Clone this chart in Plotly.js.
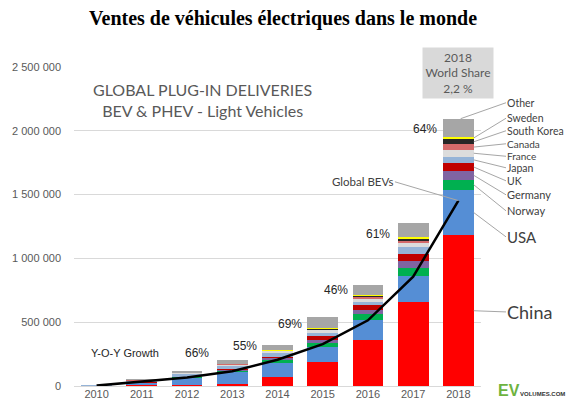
<!DOCTYPE html>
<html>
<head>
<meta charset="utf-8">
<script src="https://cdn.plot.ly/plotly-3.0.1.min.js"></script>
<style>
html,body{margin:0;padding:0;background:#fff;}
#chart{width:566px;height:407px;}
</style>
</head>
<body>
<div id="chart"></div>
<script>
var years = [2010, 2011, 2012, 2013, 2014, 2015, 2016, 2017, 2018];

var china      = [1000, 5000, 10000, 15000, 68000, 188000, 360000, 661000, 1180000];
var usa        = [500, 17700, 53000, 97000, 115000, 115000, 160000, 201000, 358000];
var norway     = [400, 2000, 4600, 8000, 20000, 34000, 45000, 63000, 78000];
var germany    = [500, 2000, 3000, 6000, 13000, 24000, 32000, 57000, 70000];
var uk         = [200, 1200, 2200, 3600, 15000, 28000, 37000, 52000, 60000];
var japan      = [2500, 12600, 24000, 29000, 31000, 23000, 22000, 53000, 52000];
var france     = [200, 2600, 5700, 9000, 11000, 23000, 29000, 36000, 52000];
var canada     = [0, 500, 1000, 1000, 2000, 7000, 11000, 16000, 45000];
var southKorea = [0, 300, 500, 800, 1500, 3000, 6000, 15000, 38000];
var sweden     = [0, 200, 900, 1500, 4600, 8600, 13000, 16000, 22000];
var other      = [4000, 8000, 14000, 33000, 40000, 88000, 77000, 105000, 140000];

var globalBEVs = [3000, 35000, 66000, 115000, 206000, 328000, 515000, 857000, 1453000];

var growthLabels = ["66%", "55%", "69%", "46%", "61%", "64%"];

var seriesNames = ["China", "USA", "Norway", "Germany", "UK", "Japan", "France", "Canada", "South Korea", "Sweden", "Other"];
var seriesData = [china, usa, norway, germany, uk, japan, france, canada, southKorea, sweden, other];
var seriesColors = ["#FF0000", "#558ED5", "#00B050", "#8064A2", "#C00000", "#95B3D7", "#DCDCDC", "#D46A6A", "#262626", "#FFFF00", "#A6A6A6"];

var traces = [];
for (var i = 0; i < seriesNames.length; i++) {
  traces.push({
    type: "bar", name: seriesNames[i], x: years, y: seriesData[i],
    marker: {color: seriesColors[i], line: {width: 0}},
    hoverinfo: "name+y"
  });
}
traces.push({
  type: "scatter", mode: "lines", name: "Global BEVs", x: years, y: globalBEVs,
  line: {color: "#000000", width: 2.5}
});

// pixel helpers for layout positions (plot area 74.4..481 x, 67.3..386 y)
function px2x(px) { return 2009.5 + (px - 74.4) / 45.18; }
function py2y(py) { return (386 - py) / 318.7 * 2500000; }

var annotations = [];
var growthPos = [[197, 353], [245, 346], [290, 324], [336, 290], [378, 234], [425, 129]];
for (var g = 0; g < growthLabels.length; g++) {
  annotations.push({x: px2x(growthPos[g][0]), y: py2y(growthPos[g][1]), xref: "x", yref: "y",
    text: growthLabels[g], showarrow: false,
    font: {family: "Liberation Sans, Arial", size: 12, color: "#262626"}});
}
annotations.push({x: px2x(125), y: py2y(353), xref: "x", yref: "y", text: "Y-O-Y Growth", showarrow: false,
  font: {family: "Liberation Sans, Arial", size: 11, color: "#262626"}});

annotations.push({x: px2x(203), y: py2y(100), xref: "x", yref: "y",
  text: "GLOBAL PLUG-IN DELIVERIES<br>BEV &amp; PHEV - Light Vehicles", showarrow: false,
  font: {family: "Lato, Carlito, sans-serif", size: 16, color: "#595959"}});

// World share box
annotations.push({x: 2018, y: py2y(73), xref: "x", yref: "y",
  text: "2018<br>World Share<br>2,2 %", showarrow: false, bgcolor: "#D9D9D9",
  width: 68, height: 48, align: "center",
  font: {family: "Lato, Carlito, sans-serif", size: 12, color: "#595959"}});

// leader labels for 2018
var last = years.length - 1;
var cum = 0;
var labelPy = [312, 237, 211, 195, 181, 168, 156.5, 144, 131, 118.5, 103];
var labelSize = [18, 15, 11, 11, 10.5, 10.5, 10, 10, 10.5, 10.5, 10.5];
for (var s = 0; s < seriesNames.length; s++) {
  var v = seriesData[s][last];
  var mid = cum + v / 2;
  cum += v;
  var headX = 2018.34, headY = mid;
  if (seriesNames[s] === "Other") { headX = 2018.05; headY = cum; }
  annotations.push({x: headX, y: headY, xref: "x", yref: "y",
    ax: px2x(506), ay: py2y(labelPy[s]), axref: "x", ayref: "y",
    xanchor: "left", yanchor: "middle", borderpad: 0,
    text: seriesNames[s], showarrow: true, arrowhead: 0, arrowwidth: 1, arrowcolor: "#A6A6A6",
    font: {family: "Lato, Carlito, sans-serif", size: labelSize[s], color: "#404040"}});
}
annotations.push({x: 2018, y: globalBEVs[last], xref: "x", yref: "y",
  ax: px2x(395), ay: py2y(182), axref: "x", ayref: "y",
  xanchor: "right", yanchor: "middle",
  text: "Global BEVs", showarrow: true, arrowhead: 0, arrowwidth: 1, arrowcolor: "#A6A6A6",
  font: {family: "Lato, Carlito, sans-serif", size: 11.5, color: "#404040"}});

// logo
annotations.push({xref: "paper", yref: "paper", x: (496 - 74.4) / 406.6, y: (386 - 390) / 318.7,
  xanchor: "left", yanchor: "middle", showarrow: false,
  text: "<b>EV</b>", font: {family: "Liberation Sans, Arial", size: 16, color: "#6DB33F"}});
annotations.push({xref: "paper", yref: "paper", x: (566 - 74.4) / 406.6, y: (386 - 394) / 318.7,
  xanchor: "right", yanchor: "middle", showarrow: false, borderpad: 0,
  text: "<b>VOLUMES.COM</b>", font: {family: "Liberation Sans, Arial", size: 6, color: "#333333"}});

var layout = {
  width: 566, height: 407,
  margin: {l: 74.4, r: 85, t: 67.3, b: 21, pad: 0},
  paper_bgcolor: "#FFFFFF", plot_bgcolor: "#FFFFFF",
  separators: ", ",
  barmode: "stack", bargap: 0.32,
  showlegend: false,
  title: {text: "<b>Ventes de véhicules électriques dans le monde</b>",
    font: {family: "Liberation Serif, Times New Roman, serif", size: 20, color: "#000000"},
    x: 0.5, xanchor: "center", y: 1 - 18 / 407, yanchor: "middle", yref: "container"},
  xaxis: {range: [2009.5, 2018.5], tickmode: "array", tickvals: years, ticktext: years.map(String),
    showgrid: false, zeroline: false, showline: false, ticks: "",
    tickfont: {family: "Liberation Sans, Arial", size: 11, color: "#595959"}, fixedrange: true},
  yaxis: {range: [0, 2500000], dtick: 500000, tick0: 0, tickformat: ",d",
    showgrid: true, gridcolor: "#D9D9D9", gridwidth: 1, zeroline: true, zerolinecolor: "#D9D9D9",
    showline: false, ticks: "", ticklabelstandoff: 12,
    tickfont: {family: "Liberation Sans, Arial", size: 11, color: "#595959"}, fixedrange: true},
  annotations: annotations
};

Plotly.newPlot("chart", traces, layout, {displayModeBar: false, staticPlot: true});
</script>
</body>
</html>
